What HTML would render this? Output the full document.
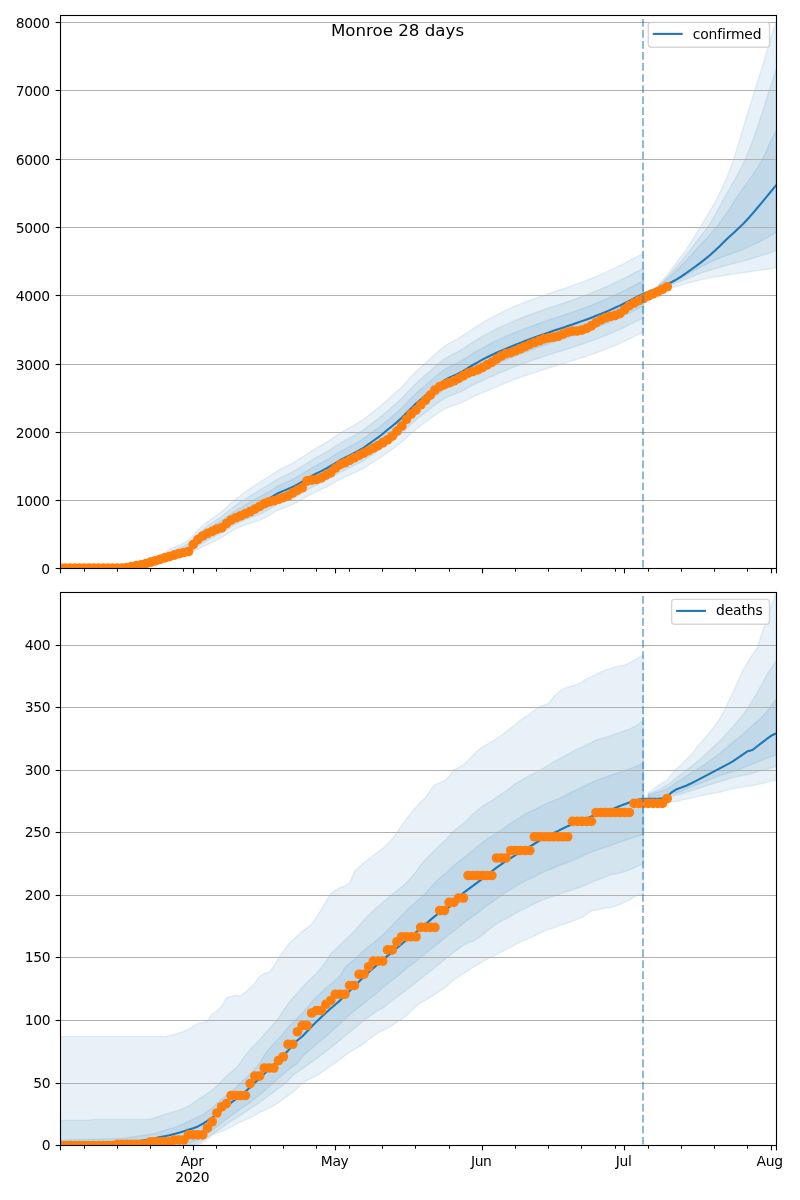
<!DOCTYPE html>
<html lang="en"><head><meta charset="utf-8"><title>Monroe 28 days</title>
<style>html,body{margin:0;padding:0;background:#fff}body{width:800px;height:1200px;overflow:hidden}</style></head>
<body>
<svg width="800" height="1200" viewBox="0 0 800 1200" style="display:block;font-family:'DejaVu Sans','Liberation Sans',sans-serif">
<defs><clipPath id="c1"><rect x="60.50" y="15.50" width="716.00" height="553.00"/></clipPath><clipPath id="c2"><rect x="60.50" y="592.50" width="716.00" height="553.00"/></clipPath></defs>
<rect width="800" height="1200" fill="#fff"/>
<g clip-path="url(#c1)">
<path d="M60.50,568.30 L65.24,568.30 L69.98,568.30 L74.72,568.29 L79.46,568.29 L84.20,568.28 L88.94,568.27 L93.68,568.26 L98.42,568.24 L103.16,568.23 L107.90,568.21 L112.64,568.19 L117.38,568.15 L122.12,568.07 L126.86,567.79 L131.60,566.68 L136.34,565.73 L141.08,564.82 L145.82,563.48 L150.56,560.75 L155.30,558.04 L160.04,555.35 L164.78,552.52 L169.52,549.57 L174.26,547.00 L179.00,545.09 L183.73,543.08 L188.47,539.94 L193.21,535.43 L197.95,530.00 L202.69,525.55 L207.43,521.84 L212.17,518.38 L216.91,515.02 L221.65,511.61 L226.39,507.40 L231.13,503.08 L235.87,498.97 L240.61,495.40 L245.35,491.91 L250.09,488.61 L254.83,485.41 L259.57,482.22 L264.31,479.38 L269.05,476.44 L273.79,473.20 L278.53,470.10 L283.27,467.64 L288.01,465.52 L292.75,463.02 L297.49,460.17 L302.23,457.11 L306.97,453.97 L311.71,450.90 L316.45,448.01 L321.19,445.32 L325.93,442.59 L330.67,439.58 L335.41,436.32 L340.15,433.21 L344.89,430.43 L349.63,427.75 L354.37,424.95 L359.11,422.11 L363.85,419.01 L368.59,415.18 L373.33,411.51 L378.07,407.94 L382.81,403.84 L387.55,399.65 L392.29,395.45 L397.03,391.28 L401.77,386.74 L406.51,381.62 L411.25,376.39 L415.98,371.55 L420.72,367.16 L425.46,362.96 L430.20,358.71 L434.94,354.26 L439.68,349.98 L444.42,346.27 L449.16,343.34 L453.90,340.85 L458.64,338.30 L463.38,335.33 L468.12,332.05 L472.86,328.78 L477.60,325.72 L482.34,322.78 L487.08,319.95 L491.82,317.35 L496.56,314.93 L501.30,312.60 L506.04,310.35 L510.78,308.15 L515.52,306.00 L520.26,303.90 L525.00,302.08 L529.74,300.32 L534.48,298.60 L539.22,296.92 L543.96,295.26 L548.70,293.64 L553.44,292.06 L558.18,290.52 L562.92,288.97 L567.66,287.40 L572.40,285.71 L577.14,283.94 L581.88,282.15 L586.62,280.33 L591.36,278.45 L596.10,276.49 L600.84,274.47 L605.58,272.38 L610.32,270.22 L615.06,267.99 L619.80,265.71 L624.54,263.30 L629.28,260.75 L634.02,258.17 L638.76,255.63 L643.50,253.25 L643.50,332.15 L638.76,334.30 L634.02,336.58 L629.28,338.91 L624.54,341.21 L619.80,343.36 L615.06,345.40 L610.32,347.37 L605.58,349.27 L600.84,351.11 L596.10,352.89 L591.36,354.59 L586.62,356.21 L581.88,357.78 L577.14,359.32 L572.40,360.83 L567.66,362.33 L562.92,363.76 L558.18,365.16 L553.44,366.57 L548.70,368.00 L543.96,369.48 L539.22,371.00 L534.48,372.54 L529.74,374.12 L525.00,375.73 L520.26,377.41 L515.52,379.21 L510.78,381.04 L506.04,382.92 L501.30,384.86 L496.56,386.87 L491.82,388.97 L487.08,390.89 L482.34,392.81 L477.60,394.85 L472.86,396.99 L468.12,399.36 L463.38,401.72 L458.64,403.79 L453.90,405.43 L449.16,407.02 L444.42,409.03 L439.68,411.84 L434.94,415.20 L430.20,418.75 L425.46,422.21 L420.72,425.62 L415.98,429.21 L411.25,433.26 L406.51,437.71 L401.77,442.03 L397.03,445.78 L392.29,449.17 L387.55,452.58 L382.81,455.98 L378.07,459.29 L373.33,462.07 L368.59,464.99 L363.85,468.19 L359.11,470.65 L354.37,472.87 L349.63,475.03 L344.89,477.08 L340.15,479.23 L335.41,481.87 L330.67,484.64 L325.93,487.18 L321.19,489.43 L316.45,491.66 L311.71,494.07 L306.97,496.67 L302.23,499.33 L297.49,501.91 L292.75,504.30 L288.01,506.32 L283.27,507.97 L278.53,509.99 L273.79,512.73 L269.05,515.62 L264.31,518.21 L259.57,520.55 L254.83,521.85 L250.09,523.15 L245.35,524.73 L240.61,526.70 L235.87,528.75 L231.13,531.50 L226.39,534.49 L221.65,537.44 L216.91,539.90 L212.17,542.32 L207.43,544.52 L202.69,546.71 L197.95,549.65 L193.21,551.50 L188.47,553.02 L183.73,553.93 L179.00,555.37 L174.26,556.71 L169.52,558.00 L164.78,559.24 L160.04,560.37 L155.30,561.48 L150.56,562.60 L145.82,563.75 L141.08,564.82 L136.34,565.73 L131.60,566.68 L126.86,567.79 L122.12,568.07 L117.38,568.15 L112.64,568.19 L107.90,568.21 L103.16,568.23 L98.42,568.24 L93.68,568.26 L88.94,568.27 L84.20,568.28 L79.46,568.29 L74.72,568.29 L69.98,568.30 L65.24,568.30 L60.50,568.30 Z" fill="#1f77b4" fill-opacity="0.1" stroke="#1f77b4" stroke-opacity="0.1" stroke-width="1.39" stroke-linejoin="round"/>
<path d="M60.50,568.30 L65.24,568.30 L69.98,568.30 L74.72,568.29 L79.46,568.29 L84.20,568.28 L88.94,568.27 L93.68,568.26 L98.42,568.24 L103.16,568.23 L107.90,568.21 L112.64,568.19 L117.38,568.15 L122.12,568.07 L126.86,567.79 L131.60,566.68 L136.34,565.73 L141.08,564.82 L145.82,563.56 L150.56,561.30 L155.30,559.06 L160.04,556.84 L164.78,554.49 L169.52,552.04 L174.26,549.80 L179.00,547.96 L183.73,546.03 L188.47,543.24 L193.21,539.18 L197.95,534.08 L202.69,529.70 L207.43,526.06 L212.17,522.73 L216.91,519.58 L221.65,516.38 L226.39,512.67 L231.13,508.91 L235.87,505.33 L240.61,502.11 L245.35,498.97 L250.09,495.98 L254.83,493.06 L259.57,490.15 L264.31,487.46 L269.05,484.65 L273.79,481.54 L278.53,478.56 L283.27,476.24 L288.01,474.23 L292.75,471.85 L297.49,469.11 L302.23,466.16 L306.97,463.15 L311.71,460.19 L316.45,457.42 L321.19,454.84 L325.93,452.23 L330.67,449.34 L335.41,446.20 L340.15,443.20 L344.89,440.54 L349.63,437.98 L354.37,435.29 L359.11,432.57 L363.85,429.59 L368.59,425.87 L373.33,422.33 L378.07,418.87 L382.81,414.89 L387.55,410.81 L392.29,406.73 L397.03,402.67 L401.77,398.25 L406.51,393.25 L411.25,388.13 L415.98,383.41 L420.72,379.14 L425.46,375.06 L430.20,370.93 L434.94,366.60 L439.68,362.46 L444.42,358.88 L449.16,356.08 L453.90,353.72 L458.64,351.31 L463.38,348.46 L468.12,345.32 L472.86,342.18 L477.60,339.25 L482.34,336.44 L487.08,333.75 L491.82,331.25 L496.56,328.93 L501.30,326.69 L506.04,324.52 L510.78,322.41 L515.52,320.35 L520.26,318.33 L525.00,316.50 L529.74,314.73 L534.48,313.00 L539.22,311.31 L543.96,309.64 L548.70,308.00 L553.44,306.42 L558.18,304.86 L562.92,303.31 L567.66,301.72 L572.40,300.05 L577.14,298.32 L581.88,296.57 L586.62,294.79 L591.36,292.95 L596.10,291.04 L600.84,289.06 L605.58,287.01 L610.32,284.89 L615.06,282.71 L619.80,280.47 L624.54,278.10 L629.28,275.59 L634.02,273.05 L638.76,270.56 L643.50,268.22 L643.50,317.93 L638.76,320.12 L634.02,322.45 L629.28,324.84 L624.54,327.18 L619.80,329.39 L615.06,331.47 L610.32,333.50 L605.58,335.45 L600.84,337.35 L596.10,339.17 L591.36,340.92 L586.62,342.60 L581.88,344.22 L577.14,345.81 L572.40,347.38 L567.66,348.93 L562.92,350.42 L558.18,351.89 L553.44,353.36 L548.70,354.85 L543.96,356.40 L539.22,357.98 L534.48,359.58 L529.74,361.22 L525.00,362.90 L520.26,364.64 L515.52,366.47 L510.78,368.33 L506.04,370.24 L501.30,372.21 L496.56,374.25 L491.82,376.38 L487.08,378.44 L482.34,380.56 L477.60,382.80 L472.86,385.15 L468.12,387.72 L463.38,390.29 L458.64,392.57 L453.90,394.41 L449.16,396.20 L444.42,398.42 L439.68,401.43 L434.94,405.00 L430.20,408.75 L425.46,412.39 L420.72,415.97 L415.98,419.74 L411.25,423.96 L406.51,428.59 L401.77,433.08 L397.03,437.01 L392.29,440.57 L387.55,444.16 L382.81,447.73 L378.07,451.22 L373.33,454.18 L368.59,457.26 L363.85,460.57 L359.11,463.15 L354.37,465.48 L349.63,467.77 L344.89,469.93 L340.15,472.19 L335.41,474.89 L330.67,477.73 L325.93,480.32 L321.19,482.64 L316.45,484.92 L311.71,487.39 L306.97,490.05 L302.23,492.76 L297.49,495.41 L292.75,497.85 L288.01,499.93 L283.27,501.64 L278.53,503.70 L273.79,506.44 L269.05,509.33 L264.31,511.92 L259.57,514.30 L254.83,516.02 L250.09,517.74 L245.35,519.64 L240.61,521.82 L235.87,524.09 L231.13,526.82 L226.39,529.74 L221.65,532.66 L216.91,535.26 L212.17,537.81 L207.43,540.34 L202.69,543.03 L197.95,546.46 L193.21,549.30 L188.47,551.49 L183.73,552.86 L179.00,554.44 L174.26,555.92 L169.52,557.35 L164.78,558.73 L160.04,559.99 L155.30,561.22 L150.56,562.47 L145.82,563.73 L141.08,564.82 L136.34,565.73 L131.60,566.68 L126.86,567.79 L122.12,568.07 L117.38,568.15 L112.64,568.19 L107.90,568.21 L103.16,568.23 L98.42,568.24 L93.68,568.26 L88.94,568.27 L84.20,568.28 L79.46,568.29 L74.72,568.29 L69.98,568.30 L65.24,568.30 L60.50,568.30 Z" fill="#1f77b4" fill-opacity="0.1" stroke="#1f77b4" stroke-opacity="0.1" stroke-width="1.39" stroke-linejoin="round"/>
<path d="M60.50,568.30 L65.24,568.30 L69.98,568.30 L74.72,568.29 L79.46,568.29 L84.20,568.28 L88.94,568.27 L93.68,568.26 L98.42,568.24 L103.16,568.23 L107.90,568.21 L112.64,568.19 L117.38,568.15 L122.12,568.07 L126.86,567.79 L131.60,566.68 L136.34,565.73 L141.08,564.82 L145.82,563.62 L150.56,561.76 L155.30,559.91 L160.04,558.08 L164.78,556.15 L169.52,554.10 L174.26,552.14 L179.00,550.37 L183.73,548.49 L188.47,546.01 L193.21,542.32 L197.95,537.50 L202.69,533.17 L207.43,529.59 L212.17,526.38 L216.91,523.40 L221.65,520.38 L226.39,517.09 L231.13,513.80 L235.87,510.65 L240.61,507.72 L245.35,504.88 L250.09,502.16 L254.83,499.47 L259.57,496.79 L264.31,494.22 L269.05,491.52 L273.79,488.52 L278.53,485.66 L283.27,483.43 L288.01,481.52 L292.75,479.24 L297.49,476.60 L302.23,473.75 L306.97,470.84 L311.71,467.98 L316.45,465.30 L321.19,462.82 L325.93,460.31 L330.67,457.51 L335.41,454.48 L340.15,451.58 L344.89,449.01 L349.63,446.55 L354.37,443.96 L359.11,441.33 L363.85,438.45 L368.59,434.84 L373.33,431.39 L378.07,428.03 L382.81,424.14 L387.55,420.17 L392.29,416.18 L397.03,412.22 L401.77,407.90 L406.51,403.00 L411.25,397.98 L415.98,393.35 L420.72,389.18 L425.46,385.20 L430.20,381.16 L434.94,376.95 L439.68,372.92 L444.42,369.45 L449.16,366.76 L453.90,364.50 L458.64,362.20 L463.38,359.47 L468.12,356.44 L472.86,353.40 L477.60,350.59 L482.34,347.89 L487.08,345.30 L491.82,342.91 L496.56,340.65 L501.30,338.49 L506.04,336.39 L510.78,334.36 L515.52,332.37 L520.26,330.42 L525.00,328.58 L529.74,326.80 L534.48,325.07 L539.22,323.36 L543.96,321.68 L548.70,320.04 L553.44,318.45 L558.18,316.88 L562.92,315.32 L567.66,313.72 L572.40,312.06 L577.14,310.37 L581.88,308.66 L586.62,306.91 L591.36,305.11 L596.10,303.23 L600.84,301.28 L605.58,299.27 L610.32,297.19 L615.06,295.04 L619.80,292.83 L624.54,290.50 L629.28,288.03 L634.02,285.52 L638.76,283.06 L643.50,280.76 L643.50,306.01 L638.76,308.24 L634.02,310.61 L629.28,313.04 L624.54,315.43 L619.80,317.68 L615.06,319.81 L610.32,321.88 L605.58,323.88 L600.84,325.81 L596.10,327.68 L591.36,329.47 L586.62,331.20 L581.88,332.86 L577.14,334.49 L572.40,336.10 L567.66,337.70 L562.92,339.25 L558.18,340.77 L553.44,342.29 L548.70,343.83 L543.96,345.43 L539.22,347.07 L534.48,348.72 L529.74,350.42 L525.00,352.15 L520.26,353.94 L515.52,355.80 L510.78,357.68 L506.04,359.62 L501.30,361.61 L496.56,363.67 L491.82,365.83 L487.08,368.01 L482.34,370.30 L477.60,372.71 L472.86,375.23 L468.12,377.97 L463.38,380.72 L458.64,383.16 L453.90,385.17 L449.16,387.14 L444.42,389.53 L439.68,392.71 L434.94,396.45 L430.20,400.37 L425.46,404.16 L420.72,407.89 L415.98,411.80 L411.25,416.18 L406.51,420.95 L401.77,425.59 L397.03,429.66 L392.29,433.37 L387.55,437.10 L382.81,440.83 L378.07,444.46 L373.33,447.56 L368.59,450.78 L363.85,454.19 L359.11,456.87 L354.37,459.29 L349.63,461.68 L344.89,463.94 L340.15,466.30 L335.41,469.05 L330.67,471.93 L325.93,474.58 L321.19,476.94 L316.45,479.27 L311.71,481.79 L306.97,484.50 L302.23,487.26 L297.49,489.96 L292.75,492.45 L288.01,494.58 L283.27,496.34 L278.53,498.43 L273.79,501.17 L269.05,504.06 L264.31,506.65 L259.57,509.06 L254.83,511.13 L250.09,513.21 L245.35,515.38 L240.61,517.74 L235.87,520.18 L231.13,522.89 L226.39,525.76 L221.65,528.65 L216.91,531.37 L212.17,534.04 L207.43,536.85 L202.69,539.94 L197.95,543.78 L193.21,547.47 L188.47,550.20 L183.73,551.96 L179.00,553.66 L174.26,555.25 L169.52,556.80 L164.78,558.30 L160.04,559.68 L155.30,561.01 L150.56,562.35 L145.82,563.71 L141.08,564.82 L136.34,565.73 L131.60,566.68 L126.86,567.79 L122.12,568.07 L117.38,568.15 L112.64,568.19 L107.90,568.21 L103.16,568.23 L98.42,568.24 L93.68,568.26 L88.94,568.27 L84.20,568.28 L79.46,568.29 L74.72,568.29 L69.98,568.30 L65.24,568.30 L60.50,568.30 Z" fill="#1f77b4" fill-opacity="0.1" stroke="#1f77b4" stroke-opacity="0.1" stroke-width="1.39" stroke-linejoin="round"/>
<path d="M648.24,294.30 L652.98,290.10 L657.71,285.42 L662.45,280.36 L667.19,274.90 L671.93,268.79 L676.67,262.37 L681.41,255.97 L686.15,249.40 L690.89,242.37 L695.63,234.58 L700.37,226.64 L705.11,218.94 L709.85,211.12 L714.59,203.10 L719.33,193.86 L724.07,183.69 L728.81,172.43 L733.55,159.86 L738.29,144.32 L743.03,127.94 L747.77,112.83 L752.51,97.94 L757.25,82.71 L761.99,67.19 L766.73,51.64 L771.47,36.24 L776.21,20.94 L776.21,268.04 L771.47,268.66 L766.73,269.30 L761.99,269.96 L757.25,270.62 L752.51,271.29 L747.77,271.97 L743.03,272.66 L738.29,273.35 L733.55,274.07 L728.81,274.80 L724.07,275.51 L719.33,276.20 L714.59,276.97 L709.85,277.85 L705.11,278.83 L700.37,279.88 L695.63,281.03 L690.89,282.26 L686.15,283.63 L681.41,285.11 L676.67,286.46 L671.93,287.66 L667.19,289.19 L662.45,291.00 L657.71,293.05 L652.98,295.33 L648.24,297.87 Z" fill="#1f77b4" fill-opacity="0.1" stroke="#1f77b4" stroke-opacity="0.1" stroke-width="1.39" stroke-linejoin="round"/>
<path d="M648.24,294.81 L652.98,290.79 L657.71,286.49 L662.45,281.93 L667.19,277.14 L671.93,271.99 L676.67,266.57 L681.41,260.88 L686.15,254.91 L690.89,248.86 L695.63,242.72 L700.37,236.52 L705.11,230.44 L709.85,223.68 L714.59,215.71 L719.33,206.97 L724.07,198.04 L728.81,189.75 L733.55,181.71 L738.29,173.37 L743.03,164.19 L747.77,153.51 L752.51,140.96 L757.25,127.57 L761.99,113.26 L766.73,98.34 L771.47,83.60 L776.21,68.90 L776.21,250.60 L771.47,252.27 L766.73,253.88 L761.99,255.43 L757.25,256.91 L752.51,258.35 L747.77,259.73 L743.03,261.07 L738.29,262.35 L733.55,263.50 L728.81,264.65 L724.07,265.98 L719.33,267.42 L714.59,268.87 L709.85,270.24 L705.11,271.65 L700.37,273.27 L695.63,275.17 L690.89,277.14 L686.15,279.02 L681.41,280.90 L676.67,282.85 L671.93,284.85 L667.19,286.95 L662.45,289.27 L657.71,291.78 L652.98,294.48 L648.24,297.35 Z" fill="#1f77b4" fill-opacity="0.1" stroke="#1f77b4" stroke-opacity="0.1" stroke-width="1.39" stroke-linejoin="round"/>
<path d="M648.24,295.31 L652.98,291.40 L657.71,287.38 L662.45,283.25 L667.19,279.04 L671.93,274.72 L676.67,270.21 L681.41,265.42 L686.15,260.39 L690.89,255.29 L695.63,250.10 L700.37,244.85 L705.11,239.67 L709.85,234.61 L714.59,229.24 L719.33,223.28 L724.07,216.83 L728.81,209.92 L733.55,202.28 L738.29,195.09 L743.03,188.42 L747.77,181.92 L752.51,175.25 L757.25,168.07 L761.99,160.02 L766.73,149.99 L771.47,139.56 L776.21,130.53 L776.21,232.18 L771.47,235.07 L766.73,237.80 L761.99,240.38 L757.25,242.82 L752.51,245.12 L747.77,247.30 L743.03,249.35 L738.29,251.26 L733.55,252.91 L728.81,254.52 L724.07,256.29 L719.33,258.16 L714.59,260.18 L709.85,262.45 L705.11,264.88 L700.37,267.38 L695.63,269.97 L690.89,272.61 L686.15,275.23 L681.41,277.87 L676.67,280.44 L671.93,282.86 L667.19,285.30 L662.45,287.95 L657.71,290.77 L652.98,293.73 L648.24,296.84 Z" fill="#1f77b4" fill-opacity="0.1" stroke="#1f77b4" stroke-opacity="0.1" stroke-width="1.39" stroke-linejoin="round"/>
<line x1="60.5" x2="776.5" y1="568.50" y2="568.50" stroke="#b0b0b0" stroke-width="1.11"/>
<line x1="60.5" x2="776.5" y1="500.50" y2="500.50" stroke="#b0b0b0" stroke-width="1.11"/>
<line x1="60.5" x2="776.5" y1="432.50" y2="432.50" stroke="#b0b0b0" stroke-width="1.11"/>
<line x1="60.5" x2="776.5" y1="364.50" y2="364.50" stroke="#b0b0b0" stroke-width="1.11"/>
<line x1="60.5" x2="776.5" y1="295.50" y2="295.50" stroke="#b0b0b0" stroke-width="1.11"/>
<line x1="60.5" x2="776.5" y1="227.50" y2="227.50" stroke="#b0b0b0" stroke-width="1.11"/>
<line x1="60.5" x2="776.5" y1="159.50" y2="159.50" stroke="#b0b0b0" stroke-width="1.11"/>
<line x1="60.5" x2="776.5" y1="90.50" y2="90.50" stroke="#b0b0b0" stroke-width="1.11"/>
<line x1="60.5" x2="776.5" y1="22.50" y2="22.50" stroke="#b0b0b0" stroke-width="1.11"/>
<path d="M60.50,568.30 L65.24,568.30 L69.98,568.30 L74.72,568.29 L79.46,568.29 L84.20,568.28 L88.94,568.27 L93.68,568.26 L98.42,568.24 L103.16,568.23 L107.90,568.21 L112.64,568.19 L117.38,568.15 L122.12,568.07 L126.86,567.79 L131.60,566.68 L136.34,565.73 L141.08,564.82 L145.82,563.69 L150.56,562.23 L155.30,560.79 L160.04,559.36 L164.78,557.85 L169.52,556.24 L174.26,554.57 L179.00,552.85 L183.73,551.03 L188.47,548.87 L193.21,545.57 L197.95,541.02 L202.69,536.76 L207.43,533.24 L212.17,530.14 L216.91,527.35 L221.65,524.51 L226.39,521.65 L231.13,518.84 L235.87,516.15 L240.61,513.52 L245.35,510.98 L250.09,508.53 L254.83,506.09 L259.57,503.65 L264.31,501.21 L269.05,498.62 L273.79,495.73 L278.53,492.99 L283.27,490.86 L288.01,489.05 L292.75,486.87 L297.49,484.33 L302.23,481.59 L306.97,478.77 L311.71,476.01 L316.45,473.44 L321.19,471.06 L325.93,468.65 L330.67,465.95 L335.41,463.02 L340.15,460.22 L344.89,457.75 L349.63,455.39 L354.37,452.91 L359.11,450.38 L363.85,447.60 L368.59,444.09 L373.33,440.74 L378.07,437.48 L382.81,433.70 L387.55,429.82 L392.29,425.94 L397.03,422.08 L401.77,417.85 L406.51,413.06 L411.25,408.14 L415.98,403.61 L420.72,399.54 L425.46,395.66 L430.20,391.73 L434.94,387.63 L439.68,383.71 L444.42,380.35 L449.16,377.78 L453.90,375.64 L458.64,373.45 L463.38,370.83 L468.12,367.91 L472.86,364.99 L477.60,362.29 L482.34,359.70 L487.08,357.23 L491.82,354.94 L496.56,352.76 L501.30,350.67 L506.04,348.65 L510.78,346.69 L515.52,344.78 L520.26,342.90 L525.00,341.05 L529.74,339.26 L534.48,337.52 L539.22,335.81 L543.96,334.12 L548.70,332.46 L553.44,330.86 L558.18,329.29 L562.92,327.71 L567.66,326.11 L572.40,324.46 L577.14,322.81 L581.88,321.13 L586.62,319.42 L591.36,317.66 L596.10,315.82 L600.84,313.90 L605.58,311.92 L610.32,309.88 L615.06,307.77 L619.80,305.59 L624.54,303.30 L629.28,300.87 L634.02,298.39 L638.76,295.97 L643.50,293.70 L648.24,291.71 L652.98,289.89 L657.71,288.12 L662.45,286.29 L667.19,284.29 L671.93,282.03 L676.67,279.36 L681.41,276.34 L686.15,273.09 L690.89,269.74 L695.63,266.35 L700.37,262.83 L705.11,259.13 L709.85,255.23 L714.59,250.99 L719.33,246.45 L724.07,241.80 L728.81,237.26 L733.55,232.89 L738.29,228.50 L743.03,223.91 L747.77,218.94 L752.51,213.58 L757.25,208.00 L761.99,202.35 L766.73,196.70 L771.47,190.94 L776.21,185.09" fill="none" stroke="#1f77b4" stroke-width="2.08" stroke-linejoin="round" stroke-linecap="square"/>
<g fill="#ff7f0e"><circle cx="60.50" cy="568.20" r="4.86"/><circle cx="65.24" cy="568.20" r="4.86"/><circle cx="69.98" cy="568.20" r="4.86"/><circle cx="74.72" cy="568.20" r="4.86"/><circle cx="79.46" cy="568.20" r="4.86"/><circle cx="84.20" cy="568.20" r="4.86"/><circle cx="88.94" cy="568.20" r="4.86"/><circle cx="93.68" cy="568.20" r="4.86"/><circle cx="98.42" cy="568.20" r="4.86"/><circle cx="103.16" cy="568.20" r="4.86"/><circle cx="107.90" cy="568.20" r="4.86"/><circle cx="112.64" cy="568.16" r="4.86"/><circle cx="117.38" cy="568.10" r="4.86"/><circle cx="122.12" cy="568.04" r="4.86"/><circle cx="126.86" cy="567.63" r="4.86"/><circle cx="131.60" cy="566.68" r="4.86"/><circle cx="136.34" cy="565.73" r="4.86"/><circle cx="141.08" cy="564.78" r="4.86"/><circle cx="145.82" cy="563.64" r="4.86"/><circle cx="150.56" cy="562.23" r="4.86"/><circle cx="155.30" cy="560.79" r="4.86"/><circle cx="160.04" cy="559.35" r="4.86"/><circle cx="164.78" cy="557.93" r="4.86"/><circle cx="169.52" cy="556.52" r="4.86"/><circle cx="174.26" cy="555.12" r="4.86"/><circle cx="179.00" cy="553.69" r="4.86"/><circle cx="183.73" cy="552.50" r="4.86"/><circle cx="188.47" cy="551.50" r="4.86"/><circle cx="193.21" cy="544.58" r="4.86"/><circle cx="197.95" cy="539.59" r="4.86"/><circle cx="202.69" cy="536.00" r="4.86"/><circle cx="207.43" cy="533.48" r="4.86"/><circle cx="212.17" cy="531.41" r="4.86"/><circle cx="216.91" cy="529.04" r="4.86"/><circle cx="221.65" cy="527.88" r="4.86"/><circle cx="226.39" cy="523.65" r="4.86"/><circle cx="231.13" cy="520.03" r="4.86"/><circle cx="235.87" cy="517.74" r="4.86"/><circle cx="240.61" cy="515.78" r="4.86"/><circle cx="245.35" cy="513.69" r="4.86"/><circle cx="250.09" cy="511.70" r="4.86"/><circle cx="254.83" cy="509.09" r="4.86"/><circle cx="259.57" cy="506.50" r="4.86"/><circle cx="264.31" cy="503.69" r="4.86"/><circle cx="269.05" cy="501.79" r="4.86"/><circle cx="273.79" cy="500.76" r="4.86"/><circle cx="278.53" cy="499.26" r="4.86"/><circle cx="283.27" cy="497.59" r="4.86"/><circle cx="288.01" cy="495.79" r="4.86"/><circle cx="292.75" cy="492.95" r="4.86"/><circle cx="297.49" cy="490.11" r="4.86"/><circle cx="302.23" cy="487.71" r="4.86"/><circle cx="306.97" cy="480.96" r="4.86"/><circle cx="311.71" cy="480.05" r="4.86"/><circle cx="316.45" cy="479.49" r="4.86"/><circle cx="321.19" cy="477.79" r="4.86"/><circle cx="325.93" cy="475.04" r="4.86"/><circle cx="330.67" cy="472.69" r="4.86"/><circle cx="335.41" cy="468.14" r="4.86"/><circle cx="340.15" cy="464.64" r="4.86"/><circle cx="344.89" cy="462.70" r="4.86"/><circle cx="349.63" cy="460.21" r="4.86"/><circle cx="354.37" cy="457.77" r="4.86"/><circle cx="359.11" cy="455.42" r="4.86"/><circle cx="363.85" cy="453.07" r="4.86"/><circle cx="368.59" cy="450.61" r="4.86"/><circle cx="373.33" cy="448.10" r="4.86"/><circle cx="378.07" cy="445.56" r="4.86"/><circle cx="382.81" cy="442.72" r="4.86"/><circle cx="387.55" cy="439.87" r="4.86"/><circle cx="392.29" cy="436.04" r="4.86"/><circle cx="397.03" cy="431.10" r="4.86"/><circle cx="401.77" cy="425.99" r="4.86"/><circle cx="406.51" cy="419.41" r="4.86"/><circle cx="411.25" cy="414.04" r="4.86"/><circle cx="415.98" cy="410.03" r="4.86"/><circle cx="420.72" cy="404.90" r="4.86"/><circle cx="425.46" cy="400.27" r="4.86"/><circle cx="430.20" cy="395.16" r="4.86"/><circle cx="434.94" cy="390.06" r="4.86"/><circle cx="439.68" cy="386.58" r="4.86"/><circle cx="444.42" cy="384.63" r="4.86"/><circle cx="449.16" cy="382.73" r="4.86"/><circle cx="453.90" cy="380.84" r="4.86"/><circle cx="458.64" cy="378.36" r="4.86"/><circle cx="463.38" cy="375.71" r="4.86"/><circle cx="468.12" cy="373.18" r="4.86"/><circle cx="472.86" cy="371.51" r="4.86"/><circle cx="477.60" cy="369.84" r="4.86"/><circle cx="482.34" cy="367.59" r="4.86"/><circle cx="487.08" cy="364.83" r="4.86"/><circle cx="491.82" cy="362.35" r="4.86"/><circle cx="496.56" cy="359.13" r="4.86"/><circle cx="501.30" cy="356.00" r="4.86"/><circle cx="506.04" cy="353.53" r="4.86"/><circle cx="510.78" cy="352.55" r="4.86"/><circle cx="515.52" cy="350.76" r="4.86"/><circle cx="520.26" cy="348.73" r="4.86"/><circle cx="525.00" cy="346.53" r="4.86"/><circle cx="529.74" cy="344.32" r="4.86"/><circle cx="534.48" cy="342.50" r="4.86"/><circle cx="539.22" cy="340.70" r="4.86"/><circle cx="543.96" cy="338.90" r="4.86"/><circle cx="548.70" cy="337.91" r="4.86"/><circle cx="553.44" cy="337.15" r="4.86"/><circle cx="558.18" cy="336.21" r="4.86"/><circle cx="562.92" cy="334.16" r="4.86"/><circle cx="567.66" cy="332.11" r="4.86"/><circle cx="572.40" cy="331.14" r="4.86"/><circle cx="577.14" cy="330.99" r="4.86"/><circle cx="581.88" cy="330.11" r="4.86"/><circle cx="586.62" cy="328.42" r="4.86"/><circle cx="591.36" cy="325.83" r="4.86"/><circle cx="596.10" cy="322.62" r="4.86"/><circle cx="600.84" cy="319.89" r="4.86"/><circle cx="605.58" cy="317.72" r="4.86"/><circle cx="610.32" cy="316.42" r="4.86"/><circle cx="615.06" cy="315.45" r="4.86"/><circle cx="619.80" cy="313.68" r="4.86"/><circle cx="624.54" cy="309.70" r="4.86"/><circle cx="629.28" cy="305.62" r="4.86"/><circle cx="634.02" cy="302.99" r="4.86"/><circle cx="638.76" cy="300.68" r="4.86"/><circle cx="643.50" cy="298.48" r="4.86"/><circle cx="648.24" cy="295.95" r="4.86"/><circle cx="652.98" cy="293.77" r="4.86"/><circle cx="657.71" cy="291.79" r="4.86"/><circle cx="662.45" cy="289.27" r="4.86"/><circle cx="667.19" cy="286.76" r="4.86"/></g>
<path d="M643,567.6 V15.5" stroke="#1f77b4" stroke-opacity="0.5" stroke-width="2.08" stroke-dasharray="7.71 3.33" fill="none"/>
</g>
<g clip-path="url(#c2)">
<path d="M60.50,1036.60 L65.24,1036.60 L69.98,1036.60 L74.72,1036.60 L79.46,1036.60 L84.20,1036.60 L88.94,1036.60 L93.68,1036.60 L98.42,1036.60 L103.16,1036.60 L107.90,1036.60 L112.64,1036.60 L117.38,1036.60 L122.12,1036.60 L126.86,1036.60 L131.60,1036.60 L136.34,1036.60 L141.08,1036.60 L145.82,1036.60 L150.56,1036.60 L155.30,1036.60 L160.04,1036.37 L164.78,1036.60 L169.52,1035.66 L174.26,1034.35 L179.00,1032.92 L183.73,1031.50 L188.47,1029.22 L193.21,1026.17 L197.95,1023.67 L202.69,1022.39 L207.43,1020.95 L212.17,1013.95 L216.91,1011.03 L221.65,1006.32 L226.39,997.97 L231.13,996.36 L235.87,995.24 L240.61,996.04 L245.35,992.07 L250.09,988.09 L254.83,983.01 L259.57,976.16 L264.31,973.68 L269.05,971.99 L273.79,966.47 L278.53,958.06 L283.27,951.38 L288.01,944.62 L292.75,940.08 L297.49,935.85 L302.23,931.58 L306.97,927.87 L311.71,924.22 L316.45,917.25 L321.19,909.49 L325.93,901.83 L330.67,893.78 L335.41,890.37 L340.15,887.66 L344.89,885.65 L349.63,882.94 L354.37,871.59 L359.11,866.91 L363.85,862.88 L368.59,859.14 L373.33,855.53 L378.07,851.79 L382.81,848.27 L387.55,843.84 L392.29,838.50 L397.03,832.50 L401.77,825.55 L406.51,818.47 L411.25,812.84 L415.98,807.18 L420.72,801.92 L425.46,797.62 L430.20,790.39 L434.94,784.65 L439.68,782.52 L444.42,780.84 L449.16,776.56 L453.90,769.86 L458.64,767.59 L463.38,764.53 L468.12,760.21 L472.86,755.29 L477.60,750.56 L482.34,746.98 L487.08,744.26 L491.82,741.42 L496.56,738.68 L501.30,735.51 L506.04,731.69 L510.78,728.05 L515.52,724.38 L520.26,720.22 L525.00,716.91 L529.74,714.29 L534.48,710.34 L539.22,706.41 L543.96,705.13 L548.70,703.50 L553.44,697.09 L558.18,692.50 L562.92,689.17 L567.66,687.13 L572.40,685.97 L577.14,684.29 L581.88,681.88 L586.62,678.92 L591.36,676.63 L596.10,674.42 L600.84,671.92 L605.58,669.87 L610.32,668.76 L615.06,666.93 L619.80,665.93 L624.54,665.35 L629.28,662.84 L634.02,660.37 L638.76,657.67 L643.50,655.13 L643.50,893.43 L638.76,894.78 L634.02,896.65 L629.28,900.32 L624.54,902.23 L619.80,904.41 L615.06,906.39 L610.32,907.49 L605.58,907.97 L600.84,909.10 L596.10,910.06 L591.36,910.65 L586.62,914.43 L581.88,917.55 L577.14,919.47 L572.40,921.36 L567.66,923.03 L562.92,924.52 L558.18,926.08 L553.44,928.01 L548.70,929.44 L543.96,931.09 L539.22,933.66 L534.48,935.93 L529.74,938.02 L525.00,940.03 L520.26,942.14 L515.52,944.53 L510.78,947.02 L506.04,949.57 L501.30,952.09 L496.56,954.61 L491.82,956.79 L487.08,959.20 L482.34,961.84 L477.60,964.66 L472.86,967.47 L468.12,970.68 L463.38,973.57 L458.64,976.61 L453.90,979.83 L449.16,983.98 L444.42,987.94 L439.68,991.25 L434.94,994.31 L430.20,997.45 L425.46,1000.22 L420.72,1002.90 L415.98,1006.13 L411.25,1010.70 L406.51,1015.57 L401.77,1019.21 L397.03,1021.97 L392.29,1025.18 L387.55,1028.10 L382.81,1030.57 L378.07,1032.87 L373.33,1036.15 L368.59,1039.82 L363.85,1043.47 L359.11,1046.65 L354.37,1049.51 L349.63,1052.48 L344.89,1055.77 L340.15,1059.46 L335.41,1062.68 L330.67,1066.01 L325.93,1069.35 L321.19,1072.55 L316.45,1075.64 L311.71,1078.15 L306.97,1080.40 L302.23,1083.27 L297.49,1087.88 L292.75,1092.27 L288.01,1095.67 L283.27,1099.07 L278.53,1102.76 L273.79,1105.69 L269.05,1107.92 L264.31,1110.39 L259.57,1112.46 L254.83,1115.25 L250.09,1118.08 L245.35,1119.80 L240.61,1121.92 L235.87,1124.42 L231.13,1126.85 L226.39,1129.47 L221.65,1131.45 L216.91,1133.09 L212.17,1135.26 L207.43,1139.05 L202.69,1142.84 L197.95,1145.00 L193.21,1145.01 L188.47,1145.02 L183.73,1145.03 L179.00,1145.04 L174.26,1145.05 L169.52,1145.05 L164.78,1145.06 L160.04,1145.07 L155.30,1145.08 L150.56,1145.09 L145.82,1145.10 L141.08,1145.11 L136.34,1145.11 L131.60,1145.12 L126.86,1145.13 L122.12,1145.14 L117.38,1145.15 L112.64,1145.16 L107.90,1145.17 L103.16,1145.17 L98.42,1145.18 L93.68,1145.19 L88.94,1145.20 L84.20,1145.21 L79.46,1145.22 L74.72,1145.22 L69.98,1145.23 L65.24,1145.24 L60.50,1145.25 Z" fill="#1f77b4" fill-opacity="0.1" stroke="#1f77b4" stroke-opacity="0.1" stroke-width="1.39" stroke-linejoin="round"/>
<path d="M60.50,1120.40 L65.24,1120.40 L69.98,1120.40 L74.72,1120.40 L79.46,1120.40 L84.20,1120.40 L88.94,1120.40 L93.68,1119.40 L98.42,1119.40 L103.16,1119.40 L107.90,1119.40 L112.64,1119.40 L117.38,1119.40 L122.12,1119.40 L126.86,1119.40 L131.60,1119.40 L136.34,1119.40 L141.08,1119.40 L145.82,1119.40 L150.56,1119.21 L155.30,1117.60 L160.04,1115.85 L164.78,1114.39 L169.52,1112.88 L174.26,1111.68 L179.00,1110.32 L183.73,1108.13 L188.47,1105.92 L193.21,1102.99 L197.95,1099.68 L202.69,1096.57 L207.43,1093.43 L212.17,1090.21 L216.91,1085.69 L221.65,1080.89 L226.39,1076.20 L231.13,1072.01 L235.87,1068.33 L240.61,1062.13 L245.35,1055.45 L250.09,1049.57 L254.83,1044.51 L259.57,1039.66 L264.31,1034.30 L269.05,1028.86 L273.79,1023.60 L278.53,1017.84 L283.27,1010.84 L288.01,1003.98 L292.75,998.04 L297.49,993.00 L302.23,987.50 L306.97,982.37 L311.71,977.67 L316.45,973.15 L321.19,967.74 L325.93,961.66 L330.67,953.85 L335.41,949.44 L340.15,944.86 L344.89,940.20 L349.63,935.72 L354.37,930.95 L359.11,925.52 L363.85,920.11 L368.59,915.14 L373.33,910.68 L378.07,906.19 L382.81,902.22 L387.55,898.28 L392.29,894.29 L397.03,890.50 L401.77,886.90 L406.51,882.54 L411.25,877.25 L415.98,871.84 L420.72,864.95 L425.46,859.46 L430.20,854.77 L434.94,850.25 L439.68,845.55 L444.42,840.90 L449.16,835.98 L453.90,830.88 L458.64,827.10 L463.38,823.47 L468.12,818.91 L472.86,814.32 L477.60,810.29 L482.34,806.30 L487.08,803.44 L491.82,800.50 L496.56,797.29 L501.30,793.90 L506.04,791.16 L510.78,787.25 L515.52,783.62 L520.26,780.74 L525.00,778.07 L529.74,775.41 L534.48,773.25 L539.22,770.94 L543.96,767.87 L548.70,764.89 L553.44,761.94 L558.18,759.44 L562.92,757.02 L567.66,754.30 L572.40,751.50 L577.14,749.13 L581.88,747.11 L586.62,744.96 L591.36,742.51 L596.10,740.02 L600.84,738.69 L605.58,737.20 L610.32,735.71 L615.06,734.10 L619.80,732.43 L624.54,730.82 L629.28,729.28 L634.02,726.73 L638.76,723.78 L643.50,720.80 L643.50,863.88 L638.76,865.71 L634.02,867.89 L629.28,869.97 L624.54,871.76 L619.80,873.17 L615.06,873.99 L610.32,874.80 L605.58,876.94 L600.84,878.78 L596.10,880.30 L591.36,882.30 L586.62,884.50 L581.88,886.49 L577.14,888.27 L572.40,889.94 L567.66,891.24 L562.92,892.62 L558.18,894.55 L553.44,896.34 L548.70,897.82 L543.96,899.30 L539.22,901.43 L534.48,903.70 L529.74,906.09 L525.00,908.54 L520.26,911.00 L515.52,913.46 L510.78,916.10 L506.04,918.67 L501.30,921.15 L496.56,923.82 L491.82,927.37 L487.08,931.34 L482.34,935.31 L477.60,938.37 L472.86,941.39 L468.12,942.53 L463.38,945.19 L458.64,948.68 L453.90,952.28 L449.16,955.98 L444.42,959.80 L439.68,963.67 L434.94,967.35 L430.20,971.21 L425.46,975.10 L420.72,978.80 L415.98,982.51 L411.25,986.30 L406.51,990.03 L401.77,993.40 L397.03,996.99 L392.29,1000.53 L387.55,1004.23 L382.81,1008.16 L378.07,1010.47 L373.33,1013.60 L368.59,1017.02 L363.85,1020.63 L359.11,1024.60 L354.37,1028.51 L349.63,1032.19 L344.89,1035.99 L340.15,1040.07 L335.41,1043.91 L330.67,1047.61 L325.93,1051.59 L321.19,1055.29 L316.45,1058.65 L311.71,1061.91 L306.97,1065.34 L302.23,1068.67 L297.49,1071.91 L292.75,1075.51 L288.01,1080.70 L283.27,1084.71 L278.53,1088.40 L273.79,1092.09 L269.05,1095.47 L264.31,1098.96 L259.57,1102.37 L254.83,1105.69 L250.09,1108.87 L245.35,1111.93 L240.61,1115.14 L235.87,1118.28 L231.13,1121.19 L226.39,1124.32 L221.65,1127.83 L216.91,1131.15 L212.17,1134.20 L207.43,1137.04 L202.69,1139.88 L197.95,1142.73 L193.21,1144.51 L188.47,1144.54 L183.73,1144.56 L179.00,1144.59 L174.26,1144.62 L169.52,1144.64 L164.78,1144.67 L160.04,1144.69 L155.30,1144.72 L150.56,1144.75 L145.82,1144.77 L141.08,1144.80 L136.34,1144.83 L131.60,1144.85 L126.86,1144.88 L122.12,1144.91 L117.38,1144.93 L112.64,1144.96 L107.90,1144.99 L103.16,1145.01 L98.42,1145.04 L93.68,1145.06 L88.94,1145.09 L84.20,1145.12 L79.46,1145.14 L74.72,1145.17 L69.98,1145.20 L65.24,1145.22 L60.50,1145.25 Z" fill="#1f77b4" fill-opacity="0.1" stroke="#1f77b4" stroke-opacity="0.1" stroke-width="1.39" stroke-linejoin="round"/>
<path d="M60.50,1140.00 L65.24,1139.89 L69.98,1139.78 L74.72,1139.67 L79.46,1139.55 L84.20,1139.44 L88.94,1139.33 L93.68,1139.22 L98.42,1139.11 L103.16,1139.00 L107.90,1138.88 L112.64,1138.77 L117.38,1138.66 L122.12,1138.30 L126.86,1137.64 L131.60,1136.98 L136.34,1136.31 L141.08,1135.65 L145.82,1134.99 L150.56,1134.27 L155.30,1133.13 L160.04,1131.68 L164.78,1130.09 L169.52,1128.88 L174.26,1127.71 L179.00,1125.69 L183.73,1123.60 L188.47,1121.50 L193.21,1119.04 L197.95,1116.83 L202.69,1114.47 L207.43,1111.48 L212.17,1107.90 L216.91,1103.44 L221.65,1099.34 L226.39,1095.39 L231.13,1091.53 L235.87,1087.49 L240.61,1082.97 L245.35,1078.38 L250.09,1073.87 L254.83,1068.93 L259.57,1063.66 L264.31,1055.01 L269.05,1048.69 L273.79,1043.81 L278.53,1038.76 L283.27,1033.18 L288.01,1027.54 L292.75,1022.59 L297.49,1018.11 L302.23,1013.36 L306.97,1007.63 L311.71,1002.07 L316.45,996.97 L321.19,992.45 L325.93,988.03 L330.67,984.17 L335.41,980.22 L340.15,975.74 L344.89,967.52 L349.63,963.15 L354.37,959.18 L359.11,955.10 L363.85,950.57 L368.59,946.53 L373.33,942.99 L378.07,939.11 L382.81,934.72 L387.55,929.96 L392.29,925.14 L397.03,920.24 L401.77,915.44 L406.51,910.61 L411.25,906.03 L415.98,902.03 L420.72,898.04 L425.46,893.31 L430.20,887.77 L434.94,882.65 L439.68,878.30 L444.42,874.25 L449.16,870.00 L453.90,865.58 L458.64,861.53 L463.38,857.95 L468.12,854.13 L472.86,850.18 L477.60,846.33 L482.34,842.43 L487.08,839.11 L491.82,836.06 L496.56,833.21 L501.30,830.07 L506.04,826.40 L510.78,823.23 L515.52,820.29 L520.26,817.25 L525.00,814.12 L529.74,811.58 L534.48,809.54 L539.22,807.32 L543.96,804.82 L548.70,802.59 L553.44,800.65 L558.18,798.76 L562.92,796.55 L567.66,794.09 L572.40,791.58 L577.14,789.43 L581.88,787.28 L586.62,784.81 L591.36,782.54 L596.10,780.57 L600.84,778.81 L605.58,777.11 L610.32,775.32 L615.06,773.66 L619.80,772.23 L624.54,770.70 L629.28,768.99 L634.02,767.10 L638.76,765.16 L643.50,763.06 L643.50,834.28 L638.76,835.89 L634.02,837.46 L629.28,838.94 L624.54,840.50 L619.80,842.18 L615.06,843.89 L610.32,845.60 L605.58,847.25 L600.84,848.78 L596.10,850.35 L591.36,852.20 L586.62,854.20 L581.88,856.37 L577.14,858.43 L572.40,860.56 L567.66,862.50 L562.92,864.27 L558.18,865.96 L553.44,868.00 L548.70,869.90 L543.96,871.78 L539.22,874.24 L534.48,876.55 L529.74,878.75 L525.00,881.22 L520.26,883.70 L515.52,886.50 L510.78,889.31 L506.04,892.25 L501.30,895.56 L496.56,898.99 L491.82,902.38 L487.08,905.62 L482.34,908.94 L477.60,912.97 L472.86,916.33 L468.12,919.67 L463.38,923.39 L458.64,927.19 L453.90,930.83 L449.16,934.42 L444.42,938.23 L439.68,942.17 L434.94,946.04 L430.20,949.74 L425.46,953.46 L420.72,957.41 L415.98,961.30 L411.25,964.83 L406.51,968.46 L401.77,972.48 L397.03,976.51 L392.29,980.16 L387.55,983.73 L382.81,987.61 L378.07,991.98 L373.33,995.93 L368.59,999.69 L363.85,1003.43 L359.11,1007.14 L354.37,1010.72 L349.63,1014.70 L344.89,1019.23 L340.15,1023.66 L335.41,1027.84 L330.67,1032.23 L325.93,1036.42 L321.19,1040.16 L316.45,1044.13 L311.71,1048.47 L306.97,1052.59 L302.23,1056.94 L297.49,1063.24 L292.75,1066.64 L288.01,1070.09 L283.27,1074.23 L278.53,1078.34 L273.79,1082.44 L269.05,1086.79 L264.31,1091.02 L259.57,1094.89 L254.83,1098.62 L250.09,1102.38 L245.35,1105.72 L240.61,1109.05 L235.87,1112.39 L231.13,1115.70 L226.39,1119.18 L221.65,1122.97 L216.91,1126.62 L212.17,1130.24 L207.43,1133.65 L202.69,1137.06 L197.95,1139.82 L193.21,1141.71 L188.47,1143.03 L183.73,1143.11 L179.00,1143.19 L174.26,1143.27 L169.52,1143.35 L164.78,1143.43 L160.04,1143.51 L155.30,1143.59 L150.56,1143.67 L145.82,1143.75 L141.08,1143.83 L136.34,1143.91 L131.60,1143.99 L126.86,1144.07 L122.12,1144.15 L117.38,1144.23 L112.64,1144.31 L107.90,1144.39 L103.16,1144.48 L98.42,1144.56 L93.68,1144.64 L88.94,1144.72 L84.20,1144.80 L79.46,1144.88 L74.72,1144.96 L69.98,1145.04 L65.24,1145.12 L60.50,1145.20 Z" fill="#1f77b4" fill-opacity="0.1" stroke="#1f77b4" stroke-opacity="0.1" stroke-width="1.39" stroke-linejoin="round"/>
<path d="M648.24,792.65 L652.98,789.58 L657.71,785.80 L662.45,782.79 L667.19,780.05 L671.93,773.65 L676.67,768.54 L681.41,764.45 L686.15,759.69 L690.89,755.04 L695.63,748.91 L700.37,743.02 L705.11,737.81 L709.85,732.20 L714.59,726.05 L719.33,719.36 L724.07,710.78 L728.81,700.82 L733.55,690.95 L738.29,680.32 L743.03,670.16 L747.77,662.07 L752.51,654.43 L757.25,648.05 L761.99,633.01 L766.73,618.21 L771.47,605.02 L776.21,592.82 L776.21,780.11 L771.47,781.07 L766.73,782.30 L761.99,783.53 L757.25,784.58 L752.51,785.45 L747.77,786.23 L743.03,787.12 L738.29,787.83 L733.55,788.59 L728.81,789.87 L724.07,791.09 L719.33,792.20 L714.59,793.07 L709.85,793.97 L705.11,794.93 L700.37,795.93 L695.63,797.10 L690.89,798.18 L686.15,799.13 L681.41,800.15 L676.67,801.39 L671.93,801.77 L667.19,801.65 L662.45,801.46 L657.71,801.21 L652.98,800.94 L648.24,800.66 Z" fill="#1f77b4" fill-opacity="0.1" stroke="#1f77b4" stroke-opacity="0.1" stroke-width="1.39" stroke-linejoin="round"/>
<path d="M648.24,794.00 L652.98,792.13 L657.71,790.30 L662.45,787.42 L667.19,784.84 L671.93,781.56 L676.67,777.47 L681.41,773.92 L686.15,770.24 L690.89,766.84 L695.63,762.99 L700.37,758.66 L705.11,754.41 L709.85,750.33 L714.59,745.87 L719.33,741.47 L724.07,736.44 L728.81,731.15 L733.55,725.82 L738.29,720.18 L743.03,714.45 L747.77,707.80 L752.51,700.47 L757.25,692.41 L761.99,684.03 L766.73,674.93 L771.47,667.72 L776.21,660.62 L776.21,766.54 L771.47,767.83 L766.73,769.11 L761.99,770.37 L757.25,771.67 L752.51,773.16 L747.77,774.50 L743.03,775.42 L738.29,776.33 L733.55,777.41 L728.81,778.77 L724.07,780.22 L719.33,781.72 L714.59,783.20 L709.85,784.71 L705.11,786.17 L700.37,787.73 L695.63,789.24 L690.89,790.93 L686.15,792.58 L681.41,793.97 L676.67,795.02 L671.93,796.14 L667.19,796.83 L662.45,797.24 L657.71,797.68 L652.98,798.06 L648.24,798.36 Z" fill="#1f77b4" fill-opacity="0.1" stroke="#1f77b4" stroke-opacity="0.1" stroke-width="1.39" stroke-linejoin="round"/>
<path d="M648.24,795.16 L652.98,793.61 L657.71,792.24 L662.45,790.62 L667.19,788.86 L671.93,785.90 L676.67,782.16 L681.41,779.41 L686.15,776.20 L690.89,773.02 L695.63,770.15 L700.37,767.31 L705.11,764.21 L709.85,760.56 L714.59,757.20 L719.33,753.74 L724.07,749.69 L728.81,745.65 L733.55,741.87 L738.29,738.01 L743.03,733.98 L747.77,729.75 L752.51,725.53 L757.25,721.26 L761.99,716.91 L766.73,711.82 L771.47,705.43 L776.21,699.19 L776.21,754.59 L771.47,756.49 L766.73,758.36 L761.99,760.22 L757.25,762.08 L752.51,764.01 L747.77,766.00 L743.03,767.93 L738.29,769.77 L733.55,771.48 L728.81,772.91 L724.07,774.36 L719.33,775.82 L714.59,777.61 L709.85,779.52 L705.11,781.51 L700.37,783.38 L695.63,785.24 L690.89,787.12 L686.15,789.42 L681.41,791.57 L676.67,792.74 L671.93,793.94 L667.19,794.92 L662.45,795.63 L657.71,796.21 L652.98,796.77 L648.24,797.42 Z" fill="#1f77b4" fill-opacity="0.1" stroke="#1f77b4" stroke-opacity="0.1" stroke-width="1.39" stroke-linejoin="round"/>
<line x1="60.5" x2="776.5" y1="1145.50" y2="1145.50" stroke="#b0b0b0" stroke-width="1.11"/>
<line x1="60.5" x2="776.5" y1="1083.50" y2="1083.50" stroke="#b0b0b0" stroke-width="1.11"/>
<line x1="60.5" x2="776.5" y1="1020.50" y2="1020.50" stroke="#b0b0b0" stroke-width="1.11"/>
<line x1="60.5" x2="776.5" y1="957.50" y2="957.50" stroke="#b0b0b0" stroke-width="1.11"/>
<line x1="60.5" x2="776.5" y1="895.50" y2="895.50" stroke="#b0b0b0" stroke-width="1.11"/>
<line x1="60.5" x2="776.5" y1="832.50" y2="832.50" stroke="#b0b0b0" stroke-width="1.11"/>
<line x1="60.5" x2="776.5" y1="770.50" y2="770.50" stroke="#b0b0b0" stroke-width="1.11"/>
<line x1="60.5" x2="776.5" y1="707.50" y2="707.50" stroke="#b0b0b0" stroke-width="1.11"/>
<line x1="60.5" x2="776.5" y1="645.50" y2="645.50" stroke="#b0b0b0" stroke-width="1.11"/>
<path d="M60.50,1144.30 L65.24,1144.24 L69.98,1144.17 L74.72,1144.11 L79.46,1144.05 L84.20,1143.98 L88.94,1143.92 L93.68,1143.85 L98.42,1143.79 L103.16,1143.73 L107.90,1143.66 L112.64,1143.60 L117.38,1143.54 L122.12,1143.22 L126.86,1142.59 L131.60,1141.95 L136.34,1141.32 L141.08,1140.69 L145.82,1140.06 L150.56,1139.36 L155.30,1138.18 L160.04,1136.99 L164.78,1136.18 L169.52,1135.29 L174.26,1133.96 L179.00,1132.63 L183.73,1131.22 L188.47,1129.75 L193.21,1128.27 L197.95,1126.42 L202.69,1123.85 L207.43,1120.78 L212.17,1117.71 L216.91,1113.97 L221.65,1110.18 L226.39,1106.39 L231.13,1102.59 L235.87,1099.25 L240.61,1095.46 L245.35,1091.44 L250.09,1087.41 L254.83,1082.67 L259.57,1078.16 L264.31,1073.74 L269.05,1069.17 L273.79,1064.56 L278.53,1059.96 L283.27,1055.36 L288.01,1050.67 L292.75,1045.25 L297.49,1040.26 L302.23,1036.47 L306.97,1031.51 L311.71,1026.49 L316.45,1021.64 L321.19,1017.18 L325.93,1012.73 L330.67,1008.53 L335.41,1004.45 L340.15,1000.35 L344.89,995.70 L349.63,991.02 L354.37,986.27 L359.11,981.51 L363.85,976.76 L368.59,972.17 L373.33,968.10 L378.07,964.03 L382.81,959.96 L387.55,955.91 L392.29,951.93 L397.03,947.95 L401.77,943.97 L406.51,940.02 L411.25,936.13 L415.98,932.24 L420.72,928.24 L425.46,924.18 L430.20,920.13 L434.94,916.11 L439.68,912.94 L444.42,910.10 L449.16,907.09 L453.90,902.35 L458.64,897.61 L463.38,892.87 L468.12,889.42 L472.86,885.96 L477.60,882.41 L482.34,878.87 L487.08,875.08 L491.82,871.29 L496.56,867.66 L501.30,864.34 L506.04,861.02 L510.78,858.03 L515.52,855.19 L520.26,852.34 L525.00,849.50 L529.74,846.66 L534.48,843.76 L539.22,840.80 L543.96,838.02 L548.70,835.65 L553.44,833.28 L558.18,830.91 L562.92,828.54 L567.66,826.18 L572.40,824.19 L577.14,822.20 L581.88,820.25 L586.62,818.35 L591.36,816.46 L596.10,814.56 L600.84,812.93 L605.58,811.42 L610.32,809.87 L615.06,807.98 L619.80,806.08 L624.54,804.23 L629.28,802.45 L634.02,800.67 L638.76,799.64 L643.50,798.90 L648.24,798.90 L652.98,798.90 L657.71,798.73 L662.45,798.34 L667.19,796.44 L671.93,792.09 L676.67,789.25 L681.41,787.59 L686.15,785.78 L690.89,783.54 L695.63,781.09 L700.37,778.64 L705.11,776.19 L709.85,773.68 L714.59,771.17 L719.33,768.65 L724.07,766.16 L728.81,763.67 L733.55,760.93 L738.29,757.67 L743.03,754.42 L747.77,751.20 L752.51,749.96 L757.25,746.28 L761.99,742.59 L766.73,738.95 L771.47,735.54 L776.21,733.43" fill="none" stroke="#1f77b4" stroke-width="2.08" stroke-linejoin="round" stroke-linecap="square"/>
<g fill="#ff7f0e"><circle cx="60.50" cy="1145.50" r="4.86"/><circle cx="65.24" cy="1145.50" r="4.86"/><circle cx="69.98" cy="1145.50" r="4.86"/><circle cx="74.72" cy="1145.50" r="4.86"/><circle cx="79.46" cy="1145.50" r="4.86"/><circle cx="84.20" cy="1145.50" r="4.86"/><circle cx="88.94" cy="1145.50" r="4.86"/><circle cx="93.68" cy="1145.50" r="4.86"/><circle cx="98.42" cy="1145.50" r="4.86"/><circle cx="103.16" cy="1145.50" r="4.86"/><circle cx="107.90" cy="1145.50" r="4.86"/><circle cx="112.64" cy="1145.50" r="4.86"/><circle cx="117.38" cy="1144.25" r="4.86"/><circle cx="122.12" cy="1144.25" r="4.86"/><circle cx="126.86" cy="1144.25" r="4.86"/><circle cx="131.60" cy="1144.25" r="4.86"/><circle cx="136.34" cy="1144.25" r="4.86"/><circle cx="141.08" cy="1144.25" r="4.86"/><circle cx="145.82" cy="1144.25" r="4.86"/><circle cx="150.56" cy="1141.75" r="4.86"/><circle cx="155.30" cy="1141.75" r="4.86"/><circle cx="160.04" cy="1141.75" r="4.86"/><circle cx="164.78" cy="1141.75" r="4.86"/><circle cx="169.52" cy="1141.75" r="4.86"/><circle cx="174.26" cy="1140.00" r="4.86"/><circle cx="179.00" cy="1140.00" r="4.86"/><circle cx="183.73" cy="1140.00" r="4.86"/><circle cx="188.47" cy="1134.88" r="4.86"/><circle cx="193.21" cy="1134.88" r="4.86"/><circle cx="197.95" cy="1134.88" r="4.86"/><circle cx="202.69" cy="1134.88" r="4.86"/><circle cx="207.43" cy="1128.00" r="4.86"/><circle cx="212.17" cy="1121.75" r="4.86"/><circle cx="216.91" cy="1113.00" r="4.86"/><circle cx="221.65" cy="1106.75" r="4.86"/><circle cx="226.39" cy="1103.62" r="4.86"/><circle cx="231.13" cy="1095.50" r="4.86"/><circle cx="235.87" cy="1095.50" r="4.86"/><circle cx="240.61" cy="1095.50" r="4.86"/><circle cx="245.35" cy="1095.50" r="4.86"/><circle cx="250.09" cy="1083.62" r="4.86"/><circle cx="254.83" cy="1076.12" r="4.86"/><circle cx="259.57" cy="1076.12" r="4.86"/><circle cx="264.31" cy="1068.00" r="4.86"/><circle cx="269.05" cy="1068.00" r="4.86"/><circle cx="273.79" cy="1068.00" r="4.86"/><circle cx="278.53" cy="1060.50" r="4.86"/><circle cx="283.27" cy="1056.75" r="4.86"/><circle cx="288.01" cy="1044.25" r="4.86"/><circle cx="292.75" cy="1044.25" r="4.86"/><circle cx="297.49" cy="1031.75" r="4.86"/><circle cx="302.23" cy="1025.50" r="4.86"/><circle cx="306.97" cy="1025.50" r="4.86"/><circle cx="311.71" cy="1013.00" r="4.86"/><circle cx="316.45" cy="1010.50" r="4.86"/><circle cx="321.19" cy="1010.50" r="4.86"/><circle cx="325.93" cy="1004.25" r="4.86"/><circle cx="330.67" cy="1000.50" r="4.86"/><circle cx="335.41" cy="994.25" r="4.86"/><circle cx="340.15" cy="994.25" r="4.86"/><circle cx="344.89" cy="994.25" r="4.86"/><circle cx="349.63" cy="985.50" r="4.86"/><circle cx="354.37" cy="985.50" r="4.86"/><circle cx="359.11" cy="974.25" r="4.86"/><circle cx="363.85" cy="974.25" r="4.86"/><circle cx="368.59" cy="966.75" r="4.86"/><circle cx="373.33" cy="961.12" r="4.86"/><circle cx="378.07" cy="961.12" r="4.86"/><circle cx="382.81" cy="961.12" r="4.86"/><circle cx="387.55" cy="949.88" r="4.86"/><circle cx="392.29" cy="949.88" r="4.86"/><circle cx="397.03" cy="941.75" r="4.86"/><circle cx="401.77" cy="936.75" r="4.86"/><circle cx="406.51" cy="936.75" r="4.86"/><circle cx="411.25" cy="936.75" r="4.86"/><circle cx="415.98" cy="936.75" r="4.86"/><circle cx="420.72" cy="927.38" r="4.86"/><circle cx="425.46" cy="927.38" r="4.86"/><circle cx="430.20" cy="927.38" r="4.86"/><circle cx="434.94" cy="927.38" r="4.86"/><circle cx="439.68" cy="910.50" r="4.86"/><circle cx="444.42" cy="910.50" r="4.86"/><circle cx="449.16" cy="902.38" r="4.86"/><circle cx="453.90" cy="902.38" r="4.86"/><circle cx="458.64" cy="898.00" r="4.86"/><circle cx="463.38" cy="898.00" r="4.86"/><circle cx="468.12" cy="875.50" r="4.86"/><circle cx="472.86" cy="875.50" r="4.86"/><circle cx="477.60" cy="875.50" r="4.86"/><circle cx="482.34" cy="875.50" r="4.86"/><circle cx="487.08" cy="875.50" r="4.86"/><circle cx="491.82" cy="875.50" r="4.86"/><circle cx="496.56" cy="858.00" r="4.86"/><circle cx="501.30" cy="858.00" r="4.86"/><circle cx="506.04" cy="858.00" r="4.86"/><circle cx="510.78" cy="850.50" r="4.86"/><circle cx="515.52" cy="850.50" r="4.86"/><circle cx="520.26" cy="850.50" r="4.86"/><circle cx="525.00" cy="850.50" r="4.86"/><circle cx="529.74" cy="850.50" r="4.86"/><circle cx="534.48" cy="836.75" r="4.86"/><circle cx="539.22" cy="836.75" r="4.86"/><circle cx="543.96" cy="836.75" r="4.86"/><circle cx="548.70" cy="836.75" r="4.86"/><circle cx="553.44" cy="836.75" r="4.86"/><circle cx="558.18" cy="836.75" r="4.86"/><circle cx="562.92" cy="836.75" r="4.86"/><circle cx="567.66" cy="836.75" r="4.86"/><circle cx="572.40" cy="821.38" r="4.86"/><circle cx="577.14" cy="821.38" r="4.86"/><circle cx="581.88" cy="821.38" r="4.86"/><circle cx="586.62" cy="821.38" r="4.86"/><circle cx="591.36" cy="821.38" r="4.86"/><circle cx="596.10" cy="812.50" r="4.86"/><circle cx="600.84" cy="812.50" r="4.86"/><circle cx="605.58" cy="812.50" r="4.86"/><circle cx="610.32" cy="812.50" r="4.86"/><circle cx="615.06" cy="812.50" r="4.86"/><circle cx="619.80" cy="812.50" r="4.86"/><circle cx="624.54" cy="812.50" r="4.86"/><circle cx="629.28" cy="812.50" r="4.86"/><circle cx="634.02" cy="803.38" r="4.86"/><circle cx="638.76" cy="803.38" r="4.86"/><circle cx="643.50" cy="803.38" r="4.86"/><circle cx="648.24" cy="803.38" r="4.86"/><circle cx="652.98" cy="803.38" r="4.86"/><circle cx="657.71" cy="803.38" r="4.86"/><circle cx="662.45" cy="803.38" r="4.86"/><circle cx="667.19" cy="798.50" r="4.86"/></g>
<path d="M643,1144.6 V592.5" stroke="#1f77b4" stroke-opacity="0.5" stroke-width="2.08" stroke-dasharray="7.71 3.33" fill="none"/>
</g>
<line x1="84.50" x2="84.50" y1="568.5" y2="571.70" stroke="#000" stroke-width="0.95"/><line x1="117.50" x2="117.50" y1="568.5" y2="571.70" stroke="#000" stroke-width="0.95"/><line x1="150.50" x2="150.50" y1="568.5" y2="571.70" stroke="#000" stroke-width="0.95"/><line x1="183.50" x2="183.50" y1="568.5" y2="571.70" stroke="#000" stroke-width="0.95"/><line x1="216.50" x2="216.50" y1="568.5" y2="571.70" stroke="#000" stroke-width="0.95"/><line x1="250.50" x2="250.50" y1="568.5" y2="571.70" stroke="#000" stroke-width="0.95"/><line x1="283.50" x2="283.50" y1="568.5" y2="571.70" stroke="#000" stroke-width="0.95"/><line x1="316.50" x2="316.50" y1="568.5" y2="571.70" stroke="#000" stroke-width="0.95"/><line x1="349.50" x2="349.50" y1="568.5" y2="571.70" stroke="#000" stroke-width="0.95"/><line x1="382.50" x2="382.50" y1="568.5" y2="571.70" stroke="#000" stroke-width="0.95"/><line x1="415.50" x2="415.50" y1="568.5" y2="571.70" stroke="#000" stroke-width="0.95"/><line x1="449.50" x2="449.50" y1="568.5" y2="571.70" stroke="#000" stroke-width="0.95"/><line x1="482.50" x2="482.50" y1="568.5" y2="571.70" stroke="#000" stroke-width="0.95"/><line x1="515.50" x2="515.50" y1="568.5" y2="571.70" stroke="#000" stroke-width="0.95"/><line x1="548.50" x2="548.50" y1="568.5" y2="571.70" stroke="#000" stroke-width="0.95"/><line x1="581.50" x2="581.50" y1="568.5" y2="571.70" stroke="#000" stroke-width="0.95"/><line x1="615.50" x2="615.50" y1="568.5" y2="571.70" stroke="#000" stroke-width="0.95"/><line x1="648.50" x2="648.50" y1="568.5" y2="571.70" stroke="#000" stroke-width="0.95"/><line x1="681.50" x2="681.50" y1="568.5" y2="571.70" stroke="#000" stroke-width="0.95"/><line x1="714.50" x2="714.50" y1="568.5" y2="571.70" stroke="#000" stroke-width="0.95"/><line x1="747.50" x2="747.50" y1="568.5" y2="571.70" stroke="#000" stroke-width="0.95"/><line x1="60.50" x2="60.50" y1="568.5" y2="573.36" stroke="#000" stroke-width="1.11"/><line x1="193.50" x2="193.50" y1="568.5" y2="573.36" stroke="#000" stroke-width="1.11"/><line x1="335.50" x2="335.50" y1="568.5" y2="573.36" stroke="#000" stroke-width="1.11"/><line x1="482.50" x2="482.50" y1="568.5" y2="573.36" stroke="#000" stroke-width="1.11"/><line x1="624.50" x2="624.50" y1="568.5" y2="573.36" stroke="#000" stroke-width="1.11"/><line x1="771.50" x2="771.50" y1="568.5" y2="573.36" stroke="#000" stroke-width="1.11"/><line x1="776.50" x2="776.50" y1="568.5" y2="573.36" stroke="#000" stroke-width="1.11"/>
<rect x="60.5" y="15.5" width="716.0" height="553.0" fill="none" stroke="#000" stroke-width="1.11" stroke-linejoin="miter"/>
<line x1="84.50" x2="84.50" y1="1145.5" y2="1148.70" stroke="#000" stroke-width="0.95"/><line x1="117.50" x2="117.50" y1="1145.5" y2="1148.70" stroke="#000" stroke-width="0.95"/><line x1="150.50" x2="150.50" y1="1145.5" y2="1148.70" stroke="#000" stroke-width="0.95"/><line x1="183.50" x2="183.50" y1="1145.5" y2="1148.70" stroke="#000" stroke-width="0.95"/><line x1="216.50" x2="216.50" y1="1145.5" y2="1148.70" stroke="#000" stroke-width="0.95"/><line x1="250.50" x2="250.50" y1="1145.5" y2="1148.70" stroke="#000" stroke-width="0.95"/><line x1="283.50" x2="283.50" y1="1145.5" y2="1148.70" stroke="#000" stroke-width="0.95"/><line x1="316.50" x2="316.50" y1="1145.5" y2="1148.70" stroke="#000" stroke-width="0.95"/><line x1="349.50" x2="349.50" y1="1145.5" y2="1148.70" stroke="#000" stroke-width="0.95"/><line x1="382.50" x2="382.50" y1="1145.5" y2="1148.70" stroke="#000" stroke-width="0.95"/><line x1="415.50" x2="415.50" y1="1145.5" y2="1148.70" stroke="#000" stroke-width="0.95"/><line x1="449.50" x2="449.50" y1="1145.5" y2="1148.70" stroke="#000" stroke-width="0.95"/><line x1="482.50" x2="482.50" y1="1145.5" y2="1148.70" stroke="#000" stroke-width="0.95"/><line x1="515.50" x2="515.50" y1="1145.5" y2="1148.70" stroke="#000" stroke-width="0.95"/><line x1="548.50" x2="548.50" y1="1145.5" y2="1148.70" stroke="#000" stroke-width="0.95"/><line x1="581.50" x2="581.50" y1="1145.5" y2="1148.70" stroke="#000" stroke-width="0.95"/><line x1="615.50" x2="615.50" y1="1145.5" y2="1148.70" stroke="#000" stroke-width="0.95"/><line x1="648.50" x2="648.50" y1="1145.5" y2="1148.70" stroke="#000" stroke-width="0.95"/><line x1="681.50" x2="681.50" y1="1145.5" y2="1148.70" stroke="#000" stroke-width="0.95"/><line x1="714.50" x2="714.50" y1="1145.5" y2="1148.70" stroke="#000" stroke-width="0.95"/><line x1="747.50" x2="747.50" y1="1145.5" y2="1148.70" stroke="#000" stroke-width="0.95"/><line x1="60.50" x2="60.50" y1="1145.5" y2="1150.36" stroke="#000" stroke-width="1.11"/><line x1="193.50" x2="193.50" y1="1145.5" y2="1150.36" stroke="#000" stroke-width="1.11"/><line x1="335.50" x2="335.50" y1="1145.5" y2="1150.36" stroke="#000" stroke-width="1.11"/><line x1="482.50" x2="482.50" y1="1145.5" y2="1150.36" stroke="#000" stroke-width="1.11"/><line x1="624.50" x2="624.50" y1="1145.5" y2="1150.36" stroke="#000" stroke-width="1.11"/><line x1="771.50" x2="771.50" y1="1145.5" y2="1150.36" stroke="#000" stroke-width="1.11"/><line x1="776.50" x2="776.50" y1="1145.5" y2="1150.36" stroke="#000" stroke-width="1.11"/>
<rect x="60.5" y="592.5" width="716.0" height="553.0" fill="none" stroke="#000" stroke-width="1.11" stroke-linejoin="miter"/>
<line x1="55.64" x2="60.5" y1="568.50" y2="568.50" stroke="#000" stroke-width="1.11"/>
<text x="49.9" y="574.10" text-anchor="end" letter-spacing="-0.3" font-size="13.89" fill="#000">0</text>
<line x1="55.64" x2="60.5" y1="500.50" y2="500.50" stroke="#000" stroke-width="1.11"/>
<text x="49.9" y="506.10" text-anchor="end" letter-spacing="-0.3" font-size="13.89" fill="#000">1000</text>
<line x1="55.64" x2="60.5" y1="432.50" y2="432.50" stroke="#000" stroke-width="1.11"/>
<text x="49.9" y="438.10" text-anchor="end" letter-spacing="-0.3" font-size="13.89" fill="#000">2000</text>
<line x1="55.64" x2="60.5" y1="364.50" y2="364.50" stroke="#000" stroke-width="1.11"/>
<text x="49.9" y="370.10" text-anchor="end" letter-spacing="-0.3" font-size="13.89" fill="#000">3000</text>
<line x1="55.64" x2="60.5" y1="295.50" y2="295.50" stroke="#000" stroke-width="1.11"/>
<text x="49.9" y="301.10" text-anchor="end" letter-spacing="-0.3" font-size="13.89" fill="#000">4000</text>
<line x1="55.64" x2="60.5" y1="227.50" y2="227.50" stroke="#000" stroke-width="1.11"/>
<text x="49.9" y="233.10" text-anchor="end" letter-spacing="-0.3" font-size="13.89" fill="#000">5000</text>
<line x1="55.64" x2="60.5" y1="159.50" y2="159.50" stroke="#000" stroke-width="1.11"/>
<text x="49.9" y="165.10" text-anchor="end" letter-spacing="-0.3" font-size="13.89" fill="#000">6000</text>
<line x1="55.64" x2="60.5" y1="90.50" y2="90.50" stroke="#000" stroke-width="1.11"/>
<text x="49.9" y="96.10" text-anchor="end" letter-spacing="-0.3" font-size="13.89" fill="#000">7000</text>
<line x1="55.64" x2="60.5" y1="22.50" y2="22.50" stroke="#000" stroke-width="1.11"/>
<text x="49.9" y="28.10" text-anchor="end" letter-spacing="-0.3" font-size="13.89" fill="#000">8000</text>
<line x1="55.64" x2="60.5" y1="1145.50" y2="1145.50" stroke="#000" stroke-width="1.11"/>
<text x="50.3" y="1150.20" text-anchor="end" letter-spacing="-0.3" font-size="13.89" fill="#000">0</text>
<line x1="55.64" x2="60.5" y1="1083.50" y2="1083.50" stroke="#000" stroke-width="1.11"/>
<text x="50.3" y="1088.20" text-anchor="end" letter-spacing="-0.3" font-size="13.89" fill="#000">50</text>
<line x1="55.64" x2="60.5" y1="1020.50" y2="1020.50" stroke="#000" stroke-width="1.11"/>
<text x="50.3" y="1025.20" text-anchor="end" letter-spacing="-0.3" font-size="13.89" fill="#000">100</text>
<line x1="55.64" x2="60.5" y1="957.50" y2="957.50" stroke="#000" stroke-width="1.11"/>
<text x="50.3" y="962.20" text-anchor="end" letter-spacing="-0.3" font-size="13.89" fill="#000">150</text>
<line x1="55.64" x2="60.5" y1="895.50" y2="895.50" stroke="#000" stroke-width="1.11"/>
<text x="50.3" y="900.20" text-anchor="end" letter-spacing="-0.3" font-size="13.89" fill="#000">200</text>
<line x1="55.64" x2="60.5" y1="832.50" y2="832.50" stroke="#000" stroke-width="1.11"/>
<text x="50.3" y="837.20" text-anchor="end" letter-spacing="-0.3" font-size="13.89" fill="#000">250</text>
<line x1="55.64" x2="60.5" y1="770.50" y2="770.50" stroke="#000" stroke-width="1.11"/>
<text x="50.3" y="775.20" text-anchor="end" letter-spacing="-0.3" font-size="13.89" fill="#000">300</text>
<line x1="55.64" x2="60.5" y1="707.50" y2="707.50" stroke="#000" stroke-width="1.11"/>
<text x="50.3" y="712.20" text-anchor="end" letter-spacing="-0.3" font-size="13.89" fill="#000">350</text>
<line x1="55.64" x2="60.5" y1="645.50" y2="645.50" stroke="#000" stroke-width="1.11"/>
<text x="50.3" y="650.20" text-anchor="end" letter-spacing="-0.3" font-size="13.89" fill="#000">400</text>
<text x="192.21" y="1165.8" text-anchor="middle" letter-spacing="-0.35" font-size="13.89" fill="#000">Apr</text>
<text x="334.61" y="1165.8" text-anchor="middle" letter-spacing="-0.35" font-size="13.89" fill="#000">May</text>
<text x="481.24" y="1165.8" text-anchor="middle" letter-spacing="-0.35" font-size="13.89" fill="#000">Jun</text>
<text x="623.64" y="1165.8" text-anchor="middle" letter-spacing="-0.35" font-size="13.89" fill="#000">Jul</text>
<text x="192.31" y="1182.35" text-anchor="middle" letter-spacing="-0.3" font-size="13.89" fill="#000">2020</text>
<text x="769.6" y="1165.8" text-anchor="middle" letter-spacing="-0.35" font-size="13.89" fill="#000">Aug</text>
<text x="397.5" y="35.8" text-anchor="middle" font-size="16.67" fill="#000">Monroe 28 days</text>
<rect x="648.3" y="22.4" width="121.20000000000005" height="24.9" rx="2.8" ry="2.8" fill="#fff" fill-opacity="0.8" stroke="#ccc" stroke-opacity="0.8" stroke-width="1.39"/><line x1="653.86" x2="681.64" y1="33.90" y2="33.90" stroke="#1f77b4" stroke-width="2.08" stroke-linecap="square"/><text x="692.75" y="38.75" letter-spacing="-0.15" font-size="13.89" fill="#000">confirmed</text>
<rect x="671.6" y="599.4" width="97.89999999999998" height="24.899999999999977" rx="2.8" ry="2.8" fill="#fff" fill-opacity="0.8" stroke="#ccc" stroke-opacity="0.8" stroke-width="1.39"/><line x1="677.16" x2="704.94" y1="610.90" y2="610.90" stroke="#1f77b4" stroke-width="2.08" stroke-linecap="square"/><text x="716.05" y="614.75" letter-spacing="-0.15" font-size="13.89" fill="#000">deaths</text>
</svg>
</body></html>
